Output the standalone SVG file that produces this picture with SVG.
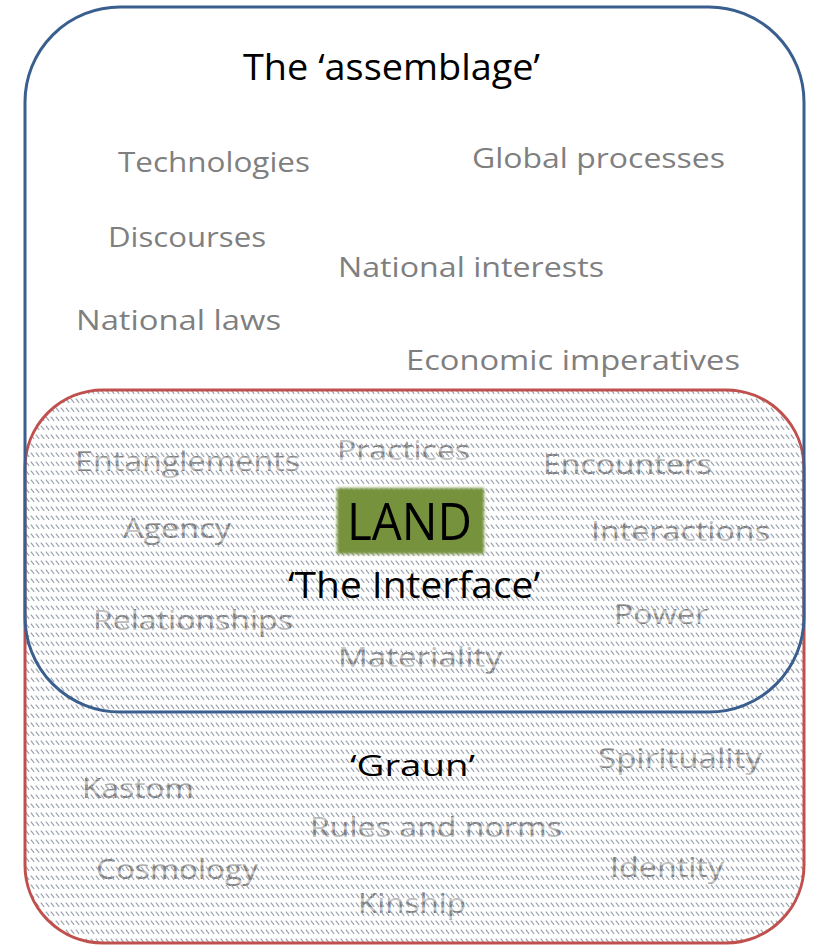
<svg xmlns="http://www.w3.org/2000/svg" width="813" height="946" viewBox="0 0 813 946">
  <defs>
    <!-- short downward-diagonal dashes in rows, used for the lower shape -->
    <pattern id="hatch" x="0" y="2" width="5" height="9" patternUnits="userSpaceOnUse">
      <rect x="0" y="5.2" width="5" height="3.4" fill="#ffffff" fill-opacity="0.55"/>
      <path d="M0.8,0.6 L4.2,4.8" stroke="#9aa2ad" stroke-width="1.2" fill="none"/>
    </pattern>
    <clipPath id="graunClip">
      <rect x="25" y="390" width="779" height="553" rx="78" ry="78"/>
    </clipPath>
    <filter id="soft" x="-10%" y="-10%" width="120%" height="120%">
      <feGaussianBlur stdDeviation="1.6"/>
    </filter>
    <style>
      .term { font-family: "Open Sans", "Noto Sans", "Liberation Sans", sans-serif; font-size: 28px; fill: #7f7f7f; }
      .title { font-family: "Open Sans", "Noto Sans", "Liberation Sans", sans-serif; fill: #000000; }
      .outline-blue { fill: none; stroke: #3a5f8f; stroke-width: 3; }
      .outline-red { fill: none; stroke: #c0504d; stroke-width: 3; }
    </style>
  </defs>

  <rect width="813" height="946" fill="#ffffff"/>

  <!-- upper set: the assemblage -->
  <g id="assemblage">
    <text class="title" x="243" y="80" font-size="36" textLength="297" lengthAdjust="spacingAndGlyphs">The ‘assemblage’</text>
    <text class="term" x="118" y="172" textLength="192" lengthAdjust="spacingAndGlyphs">Technologies</text>
    <text class="term" x="472" y="168" textLength="253" lengthAdjust="spacingAndGlyphs">Global processes</text>
    <text class="term" x="108" y="247" textLength="158" lengthAdjust="spacingAndGlyphs">Discourses</text>
    <text class="term" x="338" y="277" textLength="266" lengthAdjust="spacingAndGlyphs">National interests</text>
    <text class="term" x="76" y="330" textLength="205" lengthAdjust="spacingAndGlyphs">National laws</text>
    <text class="term" x="406" y="370" textLength="334" lengthAdjust="spacingAndGlyphs">Economic imperatives</text>
  </g>

  <!-- lower set: Graun, with hatched fill -->
  <g id="graun">
    <rect x="25" y="390" width="779" height="553" rx="78" ry="78" fill="#ffffff"/>
    <g id="graun-terms">
      <text class="term" x="75" y="471" textLength="225" lengthAdjust="spacingAndGlyphs">Entanglements</text>
      <text class="term" x="337" y="460" textLength="133" lengthAdjust="spacingAndGlyphs">Practices</text>
      <text class="term" x="543" y="474" textLength="169" lengthAdjust="spacingAndGlyphs">Encounters</text>
      <text class="term" x="123" y="538" textLength="108" lengthAdjust="spacingAndGlyphs">Agency</text>
      <text class="term" x="591" y="541" textLength="179" lengthAdjust="spacingAndGlyphs">Interactions</text>
      <text class="term" x="93" y="630" textLength="200" lengthAdjust="spacingAndGlyphs">Relationships</text>
      <text class="term" x="614" y="624" textLength="94" lengthAdjust="spacingAndGlyphs">Power</text>
      <text class="term" x="338" y="667" textLength="164" lengthAdjust="spacingAndGlyphs">Materiality</text>
      <text class="term" x="598" y="768" textLength="164" lengthAdjust="spacingAndGlyphs">Spirituality</text>
      <text class="term" x="82" y="798" textLength="112" lengthAdjust="spacingAndGlyphs">Kastom</text>
      <text class="term" x="310" y="837" textLength="252" lengthAdjust="spacingAndGlyphs">Rules and norms</text>
      <text class="term" x="96" y="879" textLength="162" lengthAdjust="spacingAndGlyphs">Cosmology</text>
      <text class="term" x="610" y="877" textLength="114" lengthAdjust="spacingAndGlyphs">Identity</text>
      <text class="term" x="358" y="913" textLength="108" lengthAdjust="spacingAndGlyphs">Kinship</text>
    </g>
    <rect x="25" y="390" width="779" height="553" fill="url(#hatch)" clip-path="url(#graunClip)"/>
  </g>

  <!-- outlines of both sets -->
  <g id="outlines">
    <rect class="outline-red" x="25" y="390" width="779" height="553" rx="78" ry="78"/>
    <rect class="outline-blue" x="25" y="7" width="779" height="705" rx="95" ry="95"/>
  </g>

  <!-- the interface: LAND at the centre of the overlap -->
  <g id="land">
    <rect x="337" y="488" width="147" height="66" fill="#76923c" filter="url(#soft)"/>
    <text class="title" x="347" y="540" font-size="52" textLength="125" lengthAdjust="spacingAndGlyphs">LAND</text>
  </g>
  <g id="interface">
    <text class="title" x="288" y="598" font-size="37" textLength="252" lengthAdjust="spacingAndGlyphs">‘The Interface’</text>
  </g>
  <g id="graun-label">
    <text class="title" x="350" y="776" font-size="29" textLength="125" lengthAdjust="spacingAndGlyphs">‘Graun’</text>
  </g>
</svg>
